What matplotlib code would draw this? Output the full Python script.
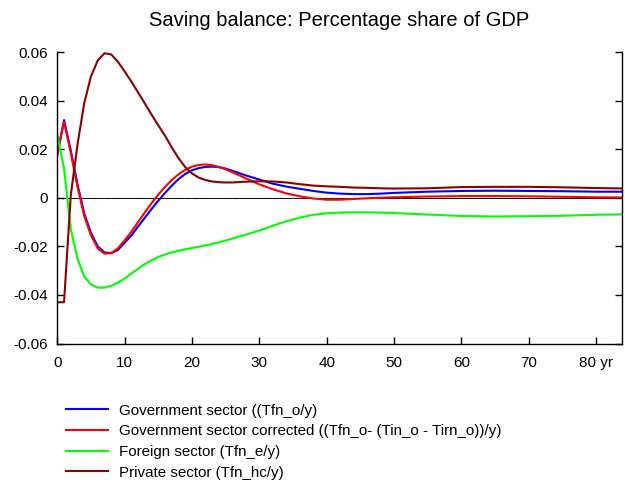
import matplotlib
matplotlib.use("Agg")
import matplotlib.pyplot as plt
import numpy as np

plt.rcParams['font.family'] = ['Liberation Sans', 'DejaVu Sans']

years = [0, 1, 2, 3, 4, 5, 6, 7, 8, 9, 10, 11, 12, 13, 14, 15, 16, 17, 18, 19,
         20, 21, 22, 23, 24, 25, 26, 28, 30, 32, 34, 36, 38, 40, 42, 44, 46, 48,
         50, 55, 60, 65, 70, 75, 80, 85]

gov = [0.0177, 0.0320, 0.0195, 0.0055, -0.0065, -0.0145, -0.0200, -0.0225, -0.0228,
       -0.0215, -0.0185, -0.0155, -0.0118, -0.0082, -0.0046, -0.0012, 0.0020, 0.0050,
       0.0077, 0.0098, 0.0113, 0.0122, 0.0127, 0.0128, 0.0126, 0.0120, 0.0111, 0.0092,
       0.0075, 0.0058, 0.0046, 0.0037, 0.0028, 0.0021, 0.0017, 0.0015, 0.0015, 0.0017,
       0.0020, 0.0025, 0.0028, 0.0029, 0.0028, 0.0027, 0.0025, 0.0025]

gov_corr = [0.0185, 0.0312, 0.0185, 0.0045, -0.0075, -0.0155, -0.0208, -0.0230, -0.0228,
            -0.0208, -0.0175, -0.0140, -0.0100, -0.0060, -0.0022, 0.0013, 0.0045, 0.0073,
            0.0097, 0.0115, 0.0128, 0.0135, 0.0137, 0.0134, 0.0127, 0.0117, 0.0105, 0.0080,
            0.0055, 0.0035, 0.0018, 0.0006, -0.0003, -0.0008, -0.0008, -0.0005, -0.0002, 0.0000,
            0.0002, 0.0005, 0.0007, 0.0007, 0.0006, 0.0004, 0.0002, 0.0001]

foreign = [0.0260, 0.0120, -0.0130, -0.0250, -0.0325, -0.0357, -0.0370, -0.0370, -0.0362,
           -0.0350, -0.0332, -0.0312, -0.0292, -0.0273, -0.0257, -0.0244, -0.0233, -0.0225,
           -0.0218, -0.0212, -0.0207, -0.0202, -0.0196, -0.0190, -0.0183, -0.0176, -0.0168,
           -0.0152, -0.0135, -0.0115, -0.0097, -0.0082, -0.0070, -0.0064, -0.0061, -0.0060,
           -0.0060, -0.0061, -0.0063, -0.0069, -0.0075, -0.0077, -0.0076, -0.0074, -0.0070,
           -0.0068]

private = [-0.0430, -0.0430, 0.0010, 0.0220, 0.0390, 0.0500, 0.0565, 0.0595, 0.0590,
           0.0560, 0.0520, 0.0478, 0.0433, 0.0388, 0.0342, 0.0298, 0.0255, 0.0207,
           0.0163, 0.0126, 0.0100, 0.0083, 0.0073, 0.0067, 0.0064, 0.0063, 0.0063,
           0.0066, 0.0068, 0.0067, 0.0063, 0.0056, 0.0050, 0.0047, 0.0045, 0.0042,
           0.0041, 0.0039, 0.0038, 0.0039, 0.0044, 0.0045, 0.0045, 0.0043, 0.0040, 0.0038]

labels = ["Government sector ((Tfn_o/y)",
          "Government sector corrected ((Tfn_o- (Tin_o - Tirn_o))/y)",
          "Foreign sector (Tfn_e/y)",
          "Private sector (Tfn_hc/y)"]
colors = ["#0000ff", "#ff0000", "#00ff00", "#8b0000"]

xticks = [0, 10, 20, 30, 40, 50, 60, 70, 80]
xticklabels = ["0", "10", "20", "30", "40", "50", "60", "70", "80 yr"]
yticks = [-0.06, -0.04, -0.02, 0, 0.02, 0.04, 0.06]
yticklabels = ["-0.06", "-0.04", "-0.02", "0", "0.02", "0.04", "0.06"]

fig = plt.figure(figsize=(6.25, 4.83), dpi=100)
ax = fig.add_axes([0.0917, 0.2888, 0.9947 - 0.0917, 0.8923 - 0.2888])

# zero reference line with faint small ticks
ax.axhline(0, color="black", lw=0.7, zorder=1)
zx = np.arange(0, 85)
ax.plot(zx, np.zeros_like(zx), ls="none", marker="|", ms=2.0, mew=0.3,
        color="#999999", zorder=1)

for series, lab, col in zip([gov, gov_corr, foreign, private], labels, colors):
    ax.plot(years, series, color=col, lw=1.5, label=lab, zorder=2)

ax.set_xlim(0, 83.8)
ax.set_ylim(-0.06, 0.06)
ax.set_xticks(xticks)
ax.set_xticklabels(xticklabels)
ax.set_yticks(yticks)
ax.set_yticklabels(yticklabels)
ax.tick_params(direction="in", length=5, width=1, labelsize=11, pad=7)
ax.tick_params(axis="y", right=True, left=True)
ax.tick_params(axis="x", top=False, pad=9)
ax.spines["top"].set_visible(False)
for s in ["left", "bottom", "right"]:
    ax.spines[s].set_linewidth(1.0)

fig.text(0.543, 0.958, "Saving balance: Percentage share of GDP",
         ha="center", va="center", fontsize=14.5)

fig.legend(loc="upper left", bbox_to_anchor=(0.1056, 0.164), frameon=False,
           fontsize=10.9, handlelength=2.8, handletextpad=0.68, labelspacing=0.44,
           borderpad=0, borderaxespad=0)

fig.savefig("out.png", dpi=100)
